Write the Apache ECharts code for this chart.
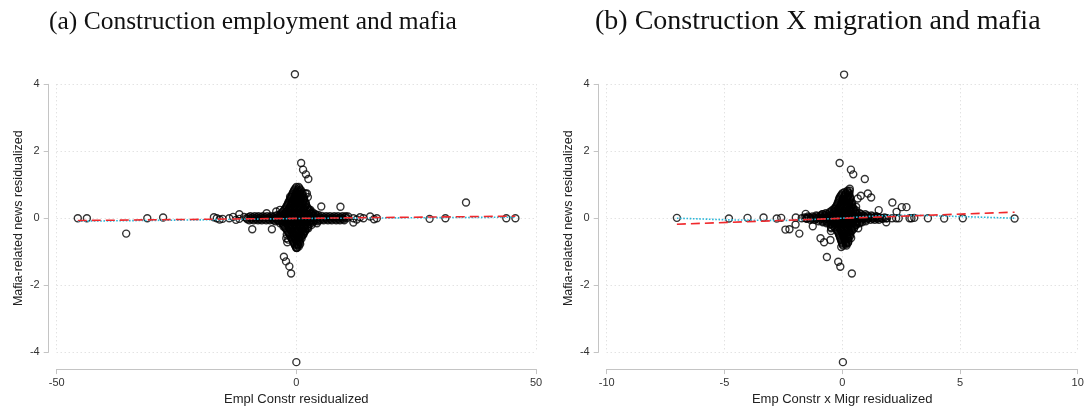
<!DOCTYPE html>
<html>
<head>
<meta charset="utf-8">
<script src="https://cdn.jsdelivr.net/npm/echarts@6/dist/echarts.min.js"></script>
<style>
  html, body { margin: 0; padding: 0; background: #fff; }
  #chart { width: 1090px; height: 411px; }
</style>
</head>
<body>
<div id="chart"></div>
<script>
// ---------- Panel (a): employment in construction vs. mafia news (residuals) ----------
const titleA = '(a) Construction employment and mafia';
const xNameA = 'Empl Constr residualized';
const xTicksA = { min: -50, max: 50, step: 50 };

// isolated observations [x, y]
const outliersA = [
  [-0.3, 4.3], [0.0, -4.3],
  [1.0, 1.65], [1.4, 1.45], [2.0, 1.31], [2.5, 1.17],
  [-2.6, -1.15], [-2.15, -1.29], [-1.46, -1.44], [-1.1, -1.65],
  [1.9, 0.74], [2.4, 0.63], [5.2, 0.35], [9.2, 0.34], [-9.2, -0.33], [-5.1, -0.33],
  [-2.1, -0.6], [-1.9, -0.72], [0.1, -0.88],
  [-45.6, 0], [-43.7, 0], [-35.5, -0.46], [-31.1, 0], [-27.8, 0.02],
  [-16.6, 0], [-15.4, -0.02], [-14.0, 0], [-11.9, 0.12], [-11.9, -0.02],
  [11.9, 0], [14.0, 0], [15.4, 0.05], [16.8, 0], [11.9, -0.13],
  [27.8, -0.02], [31.1, 0], [35.4, 0.47], [43.8, 0], [45.7, 0],
  [-1.3, 0.64], [-1.0, 0.49], [2.2, 0.74], [2.9, 0.25], [3.2, 0.15], [3.9, 0.05], [4.6, 0.1],
  [-3.4, 0.25], [-4.2, 0.2], [-6.2, 0.15], [-3.4, -0.15], [-2.7, -0.25], [-2.0, -0.49],
  [-1.7, -0.64], [1.5, -0.49], [1.8, -0.39], [2.5, -0.3], [3.2, -0.2], [4.3, -0.15],
  [0.6, -0.59], [0.2, -0.79], [-0.06, -0.88],
  [-17.2, 0.03], [-16.0, -0.04], [-13.2, 0.04], [-12.6, -0.05], [-10.9, 0.04],
  [10.8, 0.05], [12.6, -0.04], [13.3, 0.03], [16.2, -0.03]
];

// dense centre, listed row by row: [y, [x values]]
const coreRowsA = [
  [0.93, [0.0, 0.5]],
  [0.89, [-0.2, 0.6]],
  [0.85, [-0.4, 0.3, 0.9]],
  [0.81, [-0.5, 0.2, 0.9]],
  [0.77, [-0.7, 0.0, 0.7, 1.3]],
  [0.73, [-0.8, -0.1, 0.6, 1.2]],
  [0.69, [-0.9, -0.2, 0.5, 1.2]],
  [0.65, [-1.0, -0.3, 0.4, 1.1, 1.5]],
  [0.61, [-1.2, -0.4, 0.3, 1.0, 1.6]],
  [0.57, [-1.3, -0.5, 0.2, 0.9, 1.6]],
  [0.53, [-1.4, -0.6, 0.1, 0.8, 1.6]],
  [0.49, [-1.6, -0.8, 0.0, 0.7, 1.4, 1.8]],
  [0.45, [-1.7, -0.9, -0.1, 0.6, 1.3, 2.0]],
  [0.41, [-1.8, -1.0, -0.2, 0.5, 1.2, 2.0]],
  [0.37, [-2.0, -1.2, -0.4, 0.4, 1.1, 1.9]],
  [0.33, [-2.1, -1.3, -0.5, 0.3, 1.0, 1.8, 2.3]],
  [0.29, [-2.3, -1.5, -0.7, 0.1, 0.9, 1.7, 2.4]],
  [0.25, [-2.5, -1.7, -0.9, -0.1, 0.7, 1.5, 2.3, 2.7]],
  [0.21, [-2.7, -1.9, -1.1, -0.3, 0.5, 1.3, 2.1, 2.8]],
  [0.17, [-3.0, -2.2, -1.4, -0.6, 0.2, 1.0, 1.8, 2.6, 3.4]],
  [0.13, [-3.3, -2.5, -1.7, -0.9, -0.1, 0.7, 1.5, 2.3, 3.1, 3.9]],
  [0.10, [-3.9, -3.1, -2.3, -1.5, -0.7, 0.1, 0.9, 1.7, 2.5, 3.3, 4.1]],
  [0.07, [-4.5, -3.7, -2.9, -2.1, -1.3, -0.5, 0.3, 1.1, 1.9, 2.7, 3.5, 4.4, 5.3]],
  [0.06, [-9.6, -8.7, -7.9, -7.0, -6.1, -5.3, 6.2, 7.0, 7.9, 8.7, 9.6, 10.3]],
  [0.03, [-10.0, -9.1, -8.2, -7.4, -6.5, -5.6, -4.8, -3.9, -3.1, -2.3, -1.5, -0.7, 0.1, 0.9,
          1.7, 2.5, 3.3, 4.1, 4.9, 5.8, 6.6, 7.5, 8.3, 9.2, 10.1]],
  [0.0, [-10.4, -9.5, -8.6, -7.8, -6.9, -6.0, -5.2, -4.3, -3.5, -2.7, -1.9, -1.1, -0.3, 0.5,
         1.3, 2.1, 2.9, 3.7, 4.5, 5.4, 6.2, 7.1, 7.9, 8.8, 9.6, 10.5]],
  [-0.03, [-10.2, -9.3, -8.4, -7.6, -6.7, -5.8, -5.0, -4.1, -3.3, -2.5, -1.7, -0.9, -0.1, 0.7,
           1.5, 2.3, 3.1, 3.9, 4.7, 5.6, 6.4, 7.2, 8.1, 8.9, 9.8]],
  [-0.06, [-9.8, -8.9, -8.0, -7.2, -6.3, -5.5, -4.7, -3.9, -3.1, -2.3, -1.5, -0.7, 0.1, 0.9,
           1.7, 2.5, 3.3, 4.1, 4.9, 5.7, 6.6, 7.4, 8.3, 9.1, 10.0]],
  [-0.09, [-4.4, -3.6, -2.8, -2.0, -1.2, -0.4, 0.4, 1.2, 2.0, 2.8, 3.6, 4.4]],
  [-0.13, [-3.0, -2.2, -1.4, -0.6, 0.2, 1.0, 1.8, 2.6, 3.4]],
  [-0.17, [-2.8, -2.0, -1.2, -0.4, 0.4, 1.2, 2.0, 2.8]],
  [-0.21, [-2.6, -1.8, -1.0, -0.2, 0.6, 1.4, 2.2]],
  [-0.25, [-2.4, -1.6, -0.8, 0.0, 0.8, 1.6, 2.4]],
  [-0.29, [-2.3, -1.5, -0.7, 0.1, 0.9, 1.7, 2.3]],
  [-0.33, [-2.1, -1.3, -0.5, 0.3, 1.1, 1.9]],
  [-0.37, [-1.9, -1.1, -0.3, 0.5, 1.3, 1.9]],
  [-0.41, [-1.7, -0.9, -0.1, 0.7, 1.5]],
  [-0.45, [-1.6, -0.8, 0.0, 0.8, 1.5]],
  [-0.49, [-1.4, -0.6, 0.2, 1.0, 1.4]],
  [-0.53, [-1.3, -0.5, 0.3, 1.1]],
  [-0.57, [-1.1, -0.4, 0.4, 1.0]],
  [-0.61, [-1.0, -0.3, 0.5, 1.1]],
  [-0.65, [-0.8, -0.1, 0.6]],
  [-0.69, [-0.7, 0.0, 0.7]],
  [-0.73, [-0.6, 0.1, 0.7]],
  [-0.77, [-0.4, 0.3, 0.8]],
  [-0.81, [-0.3, 0.4]],
  [-0.85, [-0.1, 0.5]],
  [-0.89, [0.1]]
];

const linearFitA = [[-45.6, -0.07], [45.7, 0.06]];
const smoothFitA = [[-45.6, -0.09], [-20, -0.05], [0, -0.01], [20, 0.01], [45.7, 0.03]];

// ---------- Panel (b): construction x migration vs. mafia news (residuals) ----------
const titleB = '(b) Construction X migration and mafia';
const xNameB = 'Emp Constr x Migr residualized';
const xTicksB = { min: -10, max: 10, step: 5 };

const outliersB = [
  [0.08, 4.29], [0.03, -4.3],
  [-0.11, 1.65], [0.37, 1.45], [0.47, 1.31], [0.96, 1.17],
  [0.32, 0.88], [1.09, 0.74], [1.23, 0.62], [0.79, 0.67], [2.13, 0.47], [2.53, 0.33],
  [2.73, 0.33], [1.55, 0.24], [2.31, 0.19],
  [-1.97, 0.02], [-1.55, 0.13], [-2.24, -0.33], [-1.98, -0.19], [-1.82, -0.46], [-1.25, -0.24],
  [-0.92, -0.6], [-0.77, -0.72], [-0.5, -0.65], [-0.48, -0.38], [-0.3, 0.27], [-0.47, -0.27],
  [-0.65, -1.16], [-0.17, -1.3], [-0.08, -1.45], [0.41, -1.65], [-0.04, -0.86], [0.68, -0.3],
  [1.87, -0.12],
  [-7.02, 0.01], [-4.81, -0.01], [-4.02, 0.01], [-3.34, 0.02], [-2.78, -0.01], [-2.59, 0.01],
  [-2.41, -0.34], [-1.53, 0],
  [1.87, 0], [2.29, 0], [2.86, 0], [2.94, 0], [3.06, 0.01], [3.64, 0], [4.33, -0.01],
  [5.12, 0], [7.32, -0.01],
  [-0.82, 0.12], [-0.47, -0.3], [0.6, -0.2], [0.81, 0.0], [1.44, 0.05], [0.66, 0.59],
  [0.59, 0.34], [0.38, -0.59], [0.24, -0.74]
];

const coreRowsB = [
  [0.82, [0.22, 0.32]],
  [0.78, [0.1, 0.24]],
  [0.75, [0.02, 0.16, 0.3]],
  [0.71, [-0.02, 0.14, 0.3]],
  [0.67, [-0.06, 0.1, 0.26]],
  [0.63, [-0.1, 0.06, 0.22, 0.34]],
  [0.59, [-0.12, 0.04, 0.2, 0.34]],
  [0.55, [-0.14, 0.02, 0.18, 0.33]],
  [0.51, [-0.15, 0.01, 0.17, 0.32]],
  [0.47, [-0.18, -0.02, 0.14, 0.3, 0.4]],
  [0.43, [-0.2, -0.04, 0.12, 0.28, 0.42]],
  [0.39, [-0.22, -0.06, 0.1, 0.26, 0.42]],
  [0.35, [-0.26, -0.09, 0.08, 0.24, 0.4]],
  [0.31, [-0.3, -0.13, 0.04, 0.2, 0.36, 0.46]],
  [0.27, [-0.36, -0.18, -0.01, 0.16, 0.33, 0.5]],
  [0.23, [-0.44, -0.26, -0.08, 0.1, 0.28, 0.46, 0.6]],
  [0.19, [-0.52, -0.34, -0.16, 0.02, 0.2, 0.38, 0.56]],
  [0.15, [-0.7, -0.52, -0.34, -0.16, 0.02, 0.2, 0.38, 0.56, 0.74]],
  [0.12, [-0.85, -0.66, -0.47, -0.28, -0.1, 0.08, 0.26, 0.44, 0.62, 0.8, 0.98]],
  [0.08, [-1.1, -0.92, -0.74, -0.56, -0.38, -0.2, -0.02, 0.16, 0.34, 0.52, 0.7, 0.88, 1.06, 1.24]],
  [0.05, [-1.45, -1.26, -1.07, -0.88, -0.7, -0.52, -0.34, -0.16, 0.02, 0.2, 0.38, 0.56,
          0.74, 0.92, 1.1, 1.28, 1.46]],
  [0.02, [-1.6, -1.4, -1.2, -1.0, -0.8, -0.6, -0.42, -0.22, -0.02, 0.18, 0.38, 0.58, 0.78,
          0.98, 1.18, 1.38, 1.58, 1.8]],
  [0.0, [-1.72, -1.52, -1.32, -1.12, -0.92, -0.72, -0.52, -0.32, -0.12, 0.08, 0.28, 0.48,
         0.68, 0.88, 1.08, 1.28, 1.48, 1.68, 1.9, 2.12, 2.4]],
  [-0.02, [-1.5, -1.3, -1.1, -0.9, -0.7, -0.5, -0.3, -0.1, 0.1, 0.3, 0.5, 0.7, 0.9, 1.1,
           1.3, 1.5, 1.72]],
  [-0.05, [-1.35, -1.16, -0.97, -0.78, -0.6, -0.42, -0.24, -0.06, 0.12, 0.3, 0.48, 0.66,
           0.84, 1.02, 1.2, 1.38, 1.56]],
  [-0.09, [-1.0, -0.82, -0.64, -0.46, -0.28, -0.1, 0.08, 0.26, 0.44, 0.62, 0.8, 1.0]],
  [-0.12, [-0.82, -0.63, -0.44, -0.26, -0.08, 0.1, 0.28, 0.46, 0.64, 0.84]],
  [-0.15, [-0.66, -0.48, -0.3, -0.12, 0.06, 0.24, 0.42, 0.6, 0.74]],
  [-0.19, [-0.5, -0.32, -0.14, 0.04, 0.22, 0.4, 0.58]],
  [-0.23, [-0.4, -0.22, -0.04, 0.14, 0.32, 0.5]],
  [-0.27, [-0.32, -0.15, 0.02, 0.19, 0.36, 0.52]],
  [-0.31, [-0.28, -0.1, 0.06, 0.22, 0.4, 0.5]],
  [-0.35, [-0.22, -0.06, 0.1, 0.26, 0.42]],
  [-0.39, [-0.2, -0.04, 0.12, 0.28, 0.4]],
  [-0.43, [-0.16, 0.0, 0.16, 0.32]],
  [-0.47, [-0.14, 0.02, 0.18, 0.32]],
  [-0.51, [-0.12, 0.04, 0.2, 0.34]],
  [-0.55, [-0.1, 0.06, 0.22, 0.32]],
  [-0.59, [-0.08, 0.08, 0.24]],
  [-0.63, [-0.06, 0.1, 0.26]],
  [-0.67, [-0.04, 0.12, 0.26]],
  [-0.71, [-0.02, 0.14, 0.26]],
  [-0.75, [0.0, 0.16]],
  [-0.79, [0.02, 0.16]],
  [-0.82, [0.04, 0.18]]
];

const linearFitB = [[-7.02, -0.18], [7.32, 0.18]];
const smoothFitB = [[-7.02, 0.0], [-4.8, -0.05], [-2.5, -0.07], [-1.0, -0.03], [0, 0.0],
                    [1.0, 0.05], [2.0, 0.08], [3.0, 0.09], [5.0, 0.05], [7.32, 0.0]];

const yTicks = { min: -4, max: 4, step: 2 };
const yName = 'Mafia-related news residualized';

// unpack the row lists into [x, y] points
function rowsToPoints(rows) {
  const pts = [];
  rows.forEach(([y, xs]) => xs.forEach(x => pts.push([x, y])));
  return pts;
}

const AXIS_GREY = '#c4c4c4';
const sans = 'Liberation Sans, Arial, sans-serif';
const serif = 'Liberation Serif, serif';

function xAxisFor(idx, ticks, name) {
  return {
    gridIndex: idx, type: 'value',
    min: ticks.min, max: ticks.max, interval: ticks.step,
    offset: 17,
    axisLine: { show: true, onZero: false, lineStyle: { color: AXIS_GREY, width: 1 } },
    axisTick: { show: true, length: 5, lineStyle: { color: AXIS_GREY } },
    axisLabel: { color: '#333', fontSize: 11, fontFamily: sans, margin: 8 },
    splitLine: { show: true, lineStyle: { type: [1, 3], color: '#d6d6d6', width: 1 } },
    name: name, nameLocation: 'middle', nameGap: 22,
    nameTextStyle: { color: '#222', fontSize: 13, fontFamily: sans }
  };
}

function yAxisFor(idx) {
  return {
    gridIndex: idx, type: 'value',
    min: yTicks.min, max: yTicks.max, interval: yTicks.step,
    offset: 8,
    axisLine: { show: true, onZero: false, lineStyle: { color: AXIS_GREY, width: 1 } },
    axisTick: { show: true, length: 5, lineStyle: { color: AXIS_GREY } },
    axisLabel: { color: '#333', fontSize: 11, fontFamily: sans, margin: 9 },
    splitLine: { show: true, lineStyle: { type: [1, 3], color: '#d6d6d6', width: 1 } },
    name: yName, nameLocation: 'middle', nameGap: 24, nameRotate: 90,
    nameTextStyle: { color: '#222', fontSize: 12.5, fontFamily: sans }
  };
}

const markerStyle = {
  symbol: 'circle', symbolSize: 7,
  itemStyle: { color: 'rgba(0,0,0,0)', borderColor: '#000', borderWidth: 1.4 }
};

function scatterSeries(idx, points) {
  return Object.assign({
    type: 'scatter', xAxisIndex: idx, yAxisIndex: idx, data: points,
    clip: false, silent: true
  }, markerStyle);
}

function lineSeries(idx, points, color, dash) {
  return {
    type: 'line', xAxisIndex: idx, yAxisIndex: idx, data: points,
    symbol: 'none', smooth: false, clip: false, silent: true,
    lineStyle: { color: color, width: 1.6, type: dash }
  };
}

const chart = echarts.init(document.getElementById('chart'), null, { renderer: 'canvas' });
chart.setOption({
  animation: false,
  backgroundColor: '#fff',
  title: [
    { text: titleA, left: 44, top: 4,
      textStyle: { fontFamily: serif, fontSize: 25.5, fontWeight: 'normal', color: '#111' } },
    { text: titleB, left: 590, top: 3,
      textStyle: { fontFamily: serif, fontSize: 28, fontWeight: 'normal', color: '#111' } }
  ],
  grid: [
    { left: 56.7, right: 554, top: 84.3, bottom: 55.3 },
    { left: 606.7, right: 12.3, top: 84.3, bottom: 55.3 }
  ],
  xAxis: [xAxisFor(0, xTicksA, xNameA), xAxisFor(1, xTicksB, xNameB)],
  yAxis: [yAxisFor(0), yAxisFor(1)],
  series: [
    scatterSeries(0, outliersA.concat(rowsToPoints(coreRowsA))),
    lineSeries(0, smoothFitA, '#2bb7d9', 'dotted'),
    lineSeries(0, linearFitA, '#f0282c', [9, 5]),
    scatterSeries(1, outliersB.concat(rowsToPoints(coreRowsB))),
    lineSeries(1, smoothFitB, '#2bb7d9', 'dotted'),
    lineSeries(1, linearFitB, '#f0282c', [9, 5])
  ]
});
</script>
</body>
</html>
